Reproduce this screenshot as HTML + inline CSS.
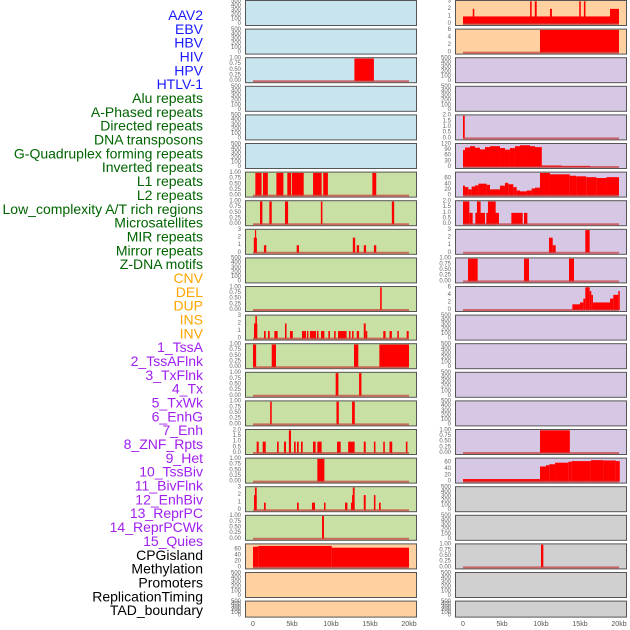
<!DOCTYPE html>
<html><head><meta charset="utf-8"><style>
body{margin:0;background:#fff;}
svg{display:block;font-family:"Liberation Sans",sans-serif;}
</style></head><body>
<svg id="chart" width="630" height="630" viewBox="0 0 630 630" xmlns="http://www.w3.org/2000/svg"></svg>
<script>
const trackLabels = ["AAV2","EBV","HBV","HIV","HPV","HTLV-1","Alu repeats","A-Phased repeats","Directed repeats","DNA transposons","G-Quadruplex forming repeats","Inverted repeats","L1 repeats","L2 repeats","Low_complexity A/T rich regions","Microsatellites","MIR repeats","Mirror repeats","Z-DNA motifs","CNV","DEL","DUP","INS","INV","1_TssA","2_TssAFlnk","3_TxFlnk","4_Tx","5_TxWk","6_EnhG","7_Enh","8_ZNF_Rpts","9_Het","10_TssBiv","11_BivFlnk","12_EnhBiv","13_ReprPC","14_ReprPCWk","15_Quies","CPGisland","Methylation","Promoters","ReplicationTiming","TAD_boundary"];
const trackCats = ["v","v","v","v","v","v","r","r","r","r","r","r","r","r","r","r","r","r","r","s","s","s","s","s","c","c","c","c","c","c","c","c","c","c","c","c","c","c","c","o","o","o","o","o"];
const catText = {v:"#1a1aff",r:"#006400",s:"#ffa500",c:"#a020f0",o:"#000000"};
const catBg = {v:"#c8e4ec",r:"#c8e0a4",s:"#ffd0a0",c:"#d6c8e4",o:"#d0d0d0"};
const E = null;
const T500 = ["0","100","200","300","400","500"];
const T1 = ["0.00","0.25","0.50","0.75","1.00"];
const T2 = ["0.0","0.5","1.0","1.5","2.0"];
const T3 = ["0","1","2","3"];
const T6 = ["0","2","4","6"];
const T60 = ["0","20","40","60"];
const T120 = ["0","30","60","90","120"];
const trackTickVals = [[0,500,100],[0,1,0.25],[0,2,0.5],[0,3,1],[0,6,2],[0,60,20],[0,120,30]];
const trackYmax = [500,500,1,500,500,500,1,1,3,500,1,3,1,1,1,2,1,3,1,76,500,500,
  3,6,500,500,2,120,80,2,3,1,6,500,500,500,500,1,72,500,500,1,500,500];
const trackTicks = [T500,T500,T1,T500,T500,T500,T1,T1,T3,T500,T1,T3,T1,T1,T1,T2,T1,T3,T1,T60,T500,T500,
  T3,T6,T500,T500,T2,T120,T60,T2,T3,T1,T6,T500,T500,T500,T500,T1,T60,T500,T500,T1,T500,T500];
const trackSegs = [
 E,E,[[13.0,15.5,1]],E,E,E,
 [[0.3,1.1,1],[1.28,1.9,1],[3.0,3.9,1],[4.4,4.9,1],[5.0,6.5,1],[7.7,8.8,1],[9.0,9.6,1],[15.3,15.8,1]],
 [[0.9,1.2,1],[2.1,2.4,1],[4.1,4.5,1],[8.7,8.9,1],[17.8,18.1,1]],
 [[0.1,0.5,2],[0.25,0.4,3],[1.4,1.7,1],[5.6,5.9,1],[12.8,13.1,2],[13.3,13.6,1],[14.2,14.5,1],[15.5,15.8,1]],
 E,
 [[16.3,16.5,1]],
 [[0.13,0.55,2],[0.3,0.5,3],[1.41,1.63,1],[1.92,2.14,1],[2.74,3.16,1],[4.1,4.3,2],[4.74,5.1,1],[6.28,6.8,1],[6.92,7.1,1],[7.3,8.08,1],[8.2,8.4,1],[8.72,9.15,1],[9.66,9.87,1],[10.4,10.6,1],[10.9,12.0,1],[12.3,12.5,1],[12.7,12.9,1],[13.3,13.6,1],[14.2,14.45,2],[14.45,14.65,1],[16.7,17.0,1],[17.5,17.8,1],[18.5,18.7,1],[19.7,19.96,1]],
 [[0,0.4,1],[2.4,2.95,1],[12.95,13.5,1],[16.2,20,1]],
 [[10.6,10.95,1],[13.6,13.9,1]],
 [[2.2,2.4,1],[10.7,11.0,1],[12.7,13.05,1]],
 [[0.47,0.73,1],[1.24,1.63,1],[3.08,3.29,1],[3.97,4.23,1],[4.6,4.87,2],[5.26,5.47,1],[5.64,5.86,1],[6.15,6.37,1],[7.69,8.03,1],[8.25,8.8,1],[10.77,11.24,1],[12.2,13.03,1],[14.2,14.45,1],[15.5,15.7,1],[16.7,16.9,1],[17.5,17.85,1],[19.6,19.8,1]],
 [[8.25,9.15,1]],
 [[0.13,0.47,2],[0.25,0.47,3],[1.41,1.63,1],[5.64,5.86,1],[7.56,7.95,1],[9.1,9.3,1],[11.8,12.1,1],[12.56,13.03,1],[12.7,12.9,2],[12.8,13.03,3],[14.2,14.45,2],[15.5,15.7,2],[16.15,16.37,1]],
 [[8.85,9.1,1]],
 [[0,0.68,69],[0.68,10.1,72],[10.1,20,66]],
 E,E,
 [[0,20,1],[1.25,1.45,2],[8.6,8.8,3],[9.2,9.45,3],[11.15,11.4,2],[14.9,15.1,3],[15.5,15.7,3],[18.85,20,2]],
 [[9.87,20,6]],
 E,E,
 [[0,0.22,2]],
 [[0,0.26,90],[0.26,0.9,103],[0.9,1.54,110],[1.54,2.18,102],[2.18,2.82,93],[2.82,3.46,105],[3.46,4.74,110],[4.74,5.38,100],[5.38,6.02,92],[6.02,6.66,100],[6.66,7.31,110],[7.31,8.59,115],[8.59,9.23,110],[9.23,10.1,105],[10.1,12.65,8],[12.65,16.3,6]],
 [[0,0.26,35],[0.26,0.68,30],[0.68,1.11,22],[1.11,1.54,32],[1.54,1.97,36],[1.97,3.03,42],[3.03,3.46,38],[3.46,4.74,22],[4.74,5.38,35],[5.38,5.81,45],[5.81,6.45,40],[6.45,6.88,30],[6.88,7.31,18],[7.31,8.16,15],[8.16,8.8,18],[8.8,9.23,25],[9.23,9.87,28],[9.87,11.15,80],[11.15,13.7,75],[13.7,14.5,70],[14.5,15.8,68],[15.8,17.1,65],[17.1,18.4,62],[18.4,20,65]],
 [[0,0.81,2],[0.81,1.24,1],[1.58,2.82,1],[1.79,2.26,2],[2.99,4.61,1],[3.2,4.19,2],[6.2,7.65,1],[7.82,8.25,1]],
 [[11.03,11.5,2],[11.5,11.88,1],[15.68,16.24,3]],
 [[0.64,1.88,1],[7.82,8.46,1],[13.59,14.23,1]],
 [[14.02,15.0,1.5],[15.0,15.43,2],[15.43,15.68,3],[15.68,16.24,6],[16.24,16.45,5],[16.45,16.66,4],[16.66,18.85,2],[18.85,19.27,3],[19.27,19.91,4],[19.91,20.1,5]],
 E,E,E,E,
 [[9.87,13.7,1]],
 [[0,9.87,8],[9.87,10.64,48],[10.64,11.07,52],[11.07,11.8,55],[11.8,13.5,60],[13.5,13.93,63],[13.93,16.4,65],[16.4,18.0,68],[18.0,19.6,67],[19.6,20.1,65]],
 E,E,
 [[10.0,10.3,1]],
 E,E
];
const xTickVals = [0,5,10,15,20];
const xTickLabels = ["0","5kb","10kb","15kb","20kb"];

const NS = "http://www.w3.org/2000/svg";
const svg = document.getElementById("chart");
function mk(tag, attrs, parent){ const e=document.createElementNS(NS,tag); for(const k in attrs) e.setAttribute(k,attrs[k]); (parent||svg).appendChild(e); return e; }

// labels
trackLabels.forEach((lab,i)=>{
  const t = mk("text",{x:203,y:15+i*13.84,"text-anchor":"end","dominant-baseline":"central","font-size":"14",fill:catText[trackCats[i]]});
  t.textContent = lab;
  
  
});

const colX = [245,455];
const PW = 171;
function xScale(col,kb){ return colX[col]+8+kb*7.8; }

for(let i=0;i<44;i++){
  const col = i<22?0:1, row = i%22;
  const top = 0.5+row*28.6;
  const h = row===21?16:25;
  const g = mk("g",{});
  
  
  mk("rect",{x:colX[col]+0.5,y:top,width:PW,height:h,fill:catBg[trackCats[i]],stroke:"#555","stroke-width":1},g);
  const ymax = trackYmax[i];
  const y0 = top+h-1.5, y1 = top+0.8;
  const yScale = v => y0-(v/ymax)*(y0-y1);
  const ticks = trackTicks[i];
  const tmax = parseFloat(ticks[ticks.length-1]);
  ticks.forEach(tl=>{
    const v = parseFloat(tl);
    const t = mk("text",{x:colX[col]-4,y:yScale(v),"text-anchor":"end","dominant-baseline":"central","font-size":"6",fill:"#666"},g);
    t.textContent = tl;
    
    
  });
  const segs = trackSegs[i];
  if(segs){
    segs.forEach(s=>{
      const r = mk("rect",{x:xScale(col,s[0]),y:yScale(s[2]),width:Math.max(1.2,xScale(col,s[1])-xScale(col,s[0])),height:y0-yScale(s[2]),fill:"#ff0000"},g);
      
      
    });
    const bl = mk("line",{x1:xScale(col,0),x2:xScale(col,20),y1:y0,y2:y0,stroke:"#c83c3c","stroke-width":2,opacity:0.7},g);
    
    
  }
}
// x ticks
[0,1].forEach(col=>{
  xTickVals.forEach((v,j)=>{
    const t = mk("text",{x:xScale(col,v),y:626,"text-anchor":"middle","font-size":"7",fill:"#555"});
    t.textContent = xTickLabels[j];
    
    
  });
});
</script>
</body></html>
